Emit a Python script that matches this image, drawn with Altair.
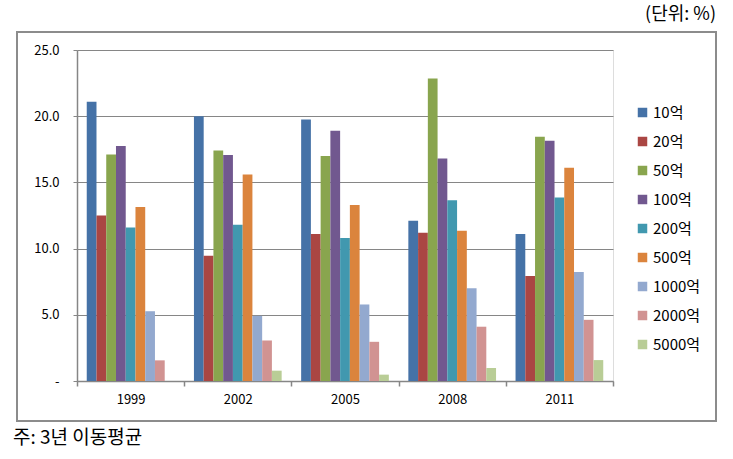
import altair as alt
import pandas as pd

years = ["1999", "2002", "2005", "2008", "2011"]
series = ["10억", "20억", "50억", "100억", "200억", "500억", "1000억", "2000억", "5000억"]
colors = ["#4572A7", "#AA4643", "#89A54E", "#71588F", "#4198AF", "#DB843D", "#93A9CF", "#D19392", "#B9CD96"]

v1999 = [21.1, 12.5, 17.1, 17.75, 11.6, 13.15, 5.27, 1.56, 0.0]
v2002 = [20.0, 9.46, 17.4, 17.07, 11.8, 15.6, 4.92, 3.06, 0.78]
v2005 = [19.75, 11.1, 17.0, 18.9, 10.8, 13.3, 5.78, 2.96, 0.48]
v2008 = [12.1, 11.2, 22.84, 16.8, 13.65, 11.35, 7.0, 4.1, 0.98]
v2011 = [11.1, 7.93, 18.45, 18.15, 13.86, 16.1, 8.23, 4.62, 1.58]

yticks = [0, 5, 10, 15, 20, 25]
unit_text = "(단위: %)"
note_text = "주: 3년 이동평균"

rows = []
for yr, vals in zip(years, [v1999, v2002, v2005, v2008, v2011]):
    for s, v in zip(series, vals):
        rows.append({"year": yr, "series": s, "value": v})
df = pd.DataFrame(rows)

FONT = "Noto Sans CJK KR"
GRAY = "#868686"

bars = alt.Chart(df).mark_bar(cornerRadius=0).encode(
    x=alt.X("year:N", sort=years,
            scale=alt.Scale(paddingInner=0, paddingOuter=0),
            axis=alt.Axis(title=None, labelAngle=0, tickBand="extent",
                          domainColor=GRAY, domainWidth=1.5, tickColor=GRAY,
                          tickWidth=1.5, tickSize=5, labelPadding=7,
                          labelFont=FONT, labelFontSize=13, labelColor="#000000",
                          grid=False)),
    xOffset=alt.XOffset("series:N", sort=series,
                        scale=alt.Scale(paddingInner=0, paddingOuter=1.0)),
    y=alt.Y("value:Q",
            scale=alt.Scale(domain=[0, 25], nice=False),
            axis=alt.Axis(title=None, values=yticks,
                          labelExpr="datum.value == 0 ? '-' : format(datum.value, '.1f')",
                          domainColor=GRAY, domainWidth=1.5, tickColor=GRAY,
                          tickWidth=1, tickSize=4, labelPadding=14,
                          labelFont=FONT, labelFontSize=13, labelColor="#000000",
                          grid=True, gridColor=GRAY, gridWidth=1.2)),
    color=alt.Color("series:N", sort=series,
                    scale=alt.Scale(domain=series, range=colors),
                    legend=alt.Legend(title=None, orient="none", legendX=558, legendY=55,
                                      symbolType="square", symbolSize=90,
                                      symbolStrokeWidth=0, labelFont=FONT,
                                      labelFontSize=15, labelColor="#000000",
                                      rowPadding=13, labelOffset=3)),
)

frame = alt.Chart(pd.DataFrame({"k": [0]})).mark_rect(
    fill=None, stroke="#8c8c8c", strokeWidth=2
).encode(x=alt.value(-60), x2=alt.value(639), y=alt.value(-18), y2=alt.value(371))

unit = alt.Chart(pd.DataFrame({"t": [unit_text]})).mark_text(
    align="right", baseline="middle", font=FONT, fontSize=18, color="#000000"
).encode(x=alt.value(639), y=alt.value(-35), text="t:N")

note = alt.Chart(pd.DataFrame({"t": [note_text]})).mark_text(
    align="left", baseline="middle", font=FONT, fontSize=19, color="#000000"
).encode(x=alt.value(-64), y=alt.value(388), text="t:N")

chart = alt.layer(frame, bars, unit, note).properties(
    width=536, height=331,
    autosize=alt.AutoSizeParams(type="none"),
    padding={"left": 77, "top": 50, "right": 120, "bottom": 78},
).configure_view(stroke=None).configure(background="white")

chart.save("out.html", embed_options={"renderer": "svg", "actions": False})
